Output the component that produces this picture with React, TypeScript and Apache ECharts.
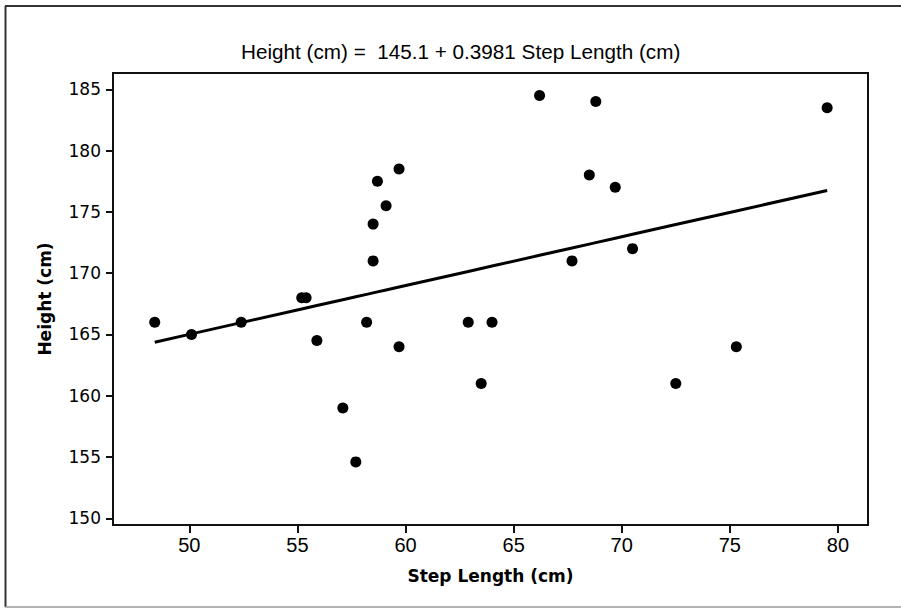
import React, { useEffect, useRef } from "react";
import * as echarts from "echarts";

const stepLength = [
  48.4, 50.1, 52.4, 55.2, 55.4, 55.9, 57.1, 57.7, 58.2, 58.5, 58.5, 58.7, 59.1, 59.7,
  59.7, 62.9, 63.5, 64.0, 66.2, 67.7, 68.5, 68.8, 69.7, 70.5, 72.5, 75.3, 79.5,
];
const height = [
  166, 165, 166, 168, 168, 164.5, 159, 154.6, 166, 174, 171, 177.5, 175.5, 178.5,
  164, 166, 161, 166, 184.5, 171, 178, 184, 177, 172, 161, 164, 183.5,
];
const intercept = 145.1;
const slope = 0.3981;
const xTicks = [50, 55, 60, 65, 70, 75, 80];
const yTicks = [150, 155, 160, 165, 170, 175, 180, 185];
const titleText = "Height (cm) =  145.1 + 0.3981 Step Length (cm)";
const xName = "Step Length (cm)";
const yName = "Height (cm)";

export default function App() {
  const ref = useRef<HTMLDivElement>(null);
  useEffect(() => {
    if (!ref.current) return;
    const chart = echarts.init(ref.current, null, { renderer: "svg" });
    const pts = stepLength.map((x, i) => [x, height[i]]);
    const xs = [...stepLength].sort((a, b) => a - b);
    const fit = xs.map((x) => [x, intercept + slope * x]);
    chart.setOption({
      animation: false,
      backgroundColor: "#fff",
      title: {
        text: titleText,
        left: 236,
        top: 36,
        textStyle: {
          fontFamily: "Liberation Sans",
          fontSize: 20.7,
          fontWeight: "normal",
          color: "#000",
        },
      },
      grid: {
        left: 113,
        top: 73,
        right: 33,
        bottom: 83,
        show: true,
        borderColor: "#111",
        borderWidth: 2,
        containLabel: false,
      },
      xAxis: {
        type: "value",
        min: 46.47,
        max: 81.39,
        name: xName,
        nameLocation: "middle",
        nameGap: 42,
        nameTextStyle: {
          fontFamily: "DejaVu Sans",
          fontWeight: "bold",
          fontSize: 17,
          color: "#000",
        },
        splitLine: { show: false },
        axisLine: { lineStyle: { color: "#111", width: 2 } },
        axisTick: {
          customValues: xTicks,
          length: 8,
          lineStyle: { color: "#111", width: 2 },
        },
        axisLabel: {
          customValues: xTicks,
          margin: 10,
          fontFamily: "Liberation Sans",
          fontSize: 20,
          color: "#000",
        },
      },
      yAxis: {
        type: "value",
        min: 149.45,
        max: 186.33,
        name: yName,
        nameLocation: "middle",
        nameGap: 60,
        nameRotate: 90,
        nameTextStyle: {
          fontFamily: "DejaVu Sans",
          fontWeight: "bold",
          fontSize: 17,
          color: "#000",
        },
        splitLine: { show: false },
        axisLine: { lineStyle: { color: "#111", width: 2 } },
        axisTick: {
          customValues: yTicks,
          length: 7,
          lineStyle: { color: "#111", width: 2 },
        },
        axisLabel: {
          customValues: yTicks,
          margin: 12,
          fontFamily: "DejaVu Sans",
          fontSize: 17,
          color: "#000",
        },
      },
      graphic: [
        { type: "line", shape: { x1: 5, y1: 6, x2: 901, y2: 6 }, style: { stroke: "#333", lineWidth: 2 } },
        { type: "line", shape: { x1: 5.5, y1: 6, x2: 5.5, y2: 607 }, style: { stroke: "#333", lineWidth: 2 } },
        { type: "line", shape: { x1: 5, y1: 607, x2: 901, y2: 607 }, style: { stroke: "#999", lineWidth: 1.5 } },
      ],
      series: [
        {
          type: "line",
          data: fit,
          showSymbol: false,
          lineStyle: { color: "#000", width: 3 },
          z: 2,
        },
        {
          type: "scatter",
          data: pts,
          symbol: "circle",
          symbolSize: 11,
          itemStyle: { color: "#000", opacity: 1 },
          z: 3,
        },
      ],
    });
    return () => chart.dispose();
  }, []);
  return (
    <div
      ref={ref}
      style={{ position: "fixed", left: 0, top: 0, width: 901, height: 608 }}
    />
  );
}
